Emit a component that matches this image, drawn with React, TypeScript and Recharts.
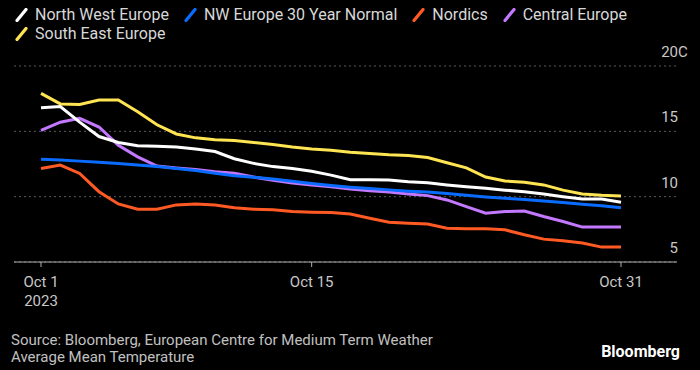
import { LineChart, Line, XAxis, YAxis, CartesianGrid } from "recharts"

const days = [1, 2, 3, 4, 5, 6, 7, 8, 9, 10, 11, 12, 13, 14, 15, 16, 17, 18, 19, 20, 21, 22, 23, 24, 25, 26, 27, 28, 29, 30, 31]

const northWest = [16.8, 16.9, 15.7, 14.6, 14.15, 13.9, 13.85, 13.8, 13.65, 13.45, 12.9, 12.55, 12.3, 12.15, 11.95, 11.65, 11.3, 11.3, 11.27, 11.15, 11.07, 10.9, 10.76, 10.64, 10.5, 10.38, 10.2, 10.0, 9.82, 9.82, 9.57]
const nwNormal = [12.87, 12.8, 12.72, 12.63, 12.53, 12.42, 12.3, 12.15, 12.0, 11.8, 11.6, 11.48, 11.35, 11.18, 11.0, 10.85, 10.72, 10.62, 10.52, 10.42, 10.35, 10.25, 10.1, 9.98, 9.88, 9.78, 9.67, 9.55, 9.42, 9.3, 9.16]
const nordics = [12.16, 12.42, 11.78, 10.38, 9.44, 9.04, 9.04, 9.37, 9.44, 9.37, 9.15, 9.04, 9.0, 8.86, 8.81, 8.78, 8.68, 8.35, 8.05, 7.97, 7.9, 7.59, 7.54, 7.54, 7.46, 7.08, 6.75, 6.62, 6.45, 6.14, 6.14]
const central = [15.08, 15.7, 16.0, 15.33, 13.94, 13.05, 12.34, 12.2, 12.08, 11.9, 11.8, 11.5, 11.25, 11.05, 10.9, 10.76, 10.58, 10.45, 10.35, 10.2, 10.08, 9.75, 9.24, 8.73, 8.86, 8.9, 8.48, 8.1, 7.67, 7.67, 7.67]
const southEast = [17.9, 17.1, 17.05, 17.4, 17.4, 16.5, 15.5, 14.8, 14.5, 14.35, 14.3, 14.15, 14.0, 13.8, 13.65, 13.55, 13.4, 13.3, 13.2, 13.15, 13.0, 12.6, 12.2, 11.5, 11.2, 11.1, 10.9, 10.5, 10.2, 10.1, 10.05]

const xTicks = [1, 15, 31]
const yTicks = [5, 10, 15, 20]

const series = [
  { key: "nw", name: "North West Europe", color: "#ffffff", values: northWest },
  { key: "normal", name: "NW Europe 30 Year Normal", color: "#0a6cff", values: nwNormal },
  { key: "nordics", name: "Nordics", color: "#ff5a23", values: nordics },
  { key: "central", name: "Central Europe", color: "#c378ff", values: central },
  { key: "se", name: "South East Europe", color: "#ffe552", values: southEast },
]

const data = days.map((day, i) => {
  const row: Record<string, number> = { day }
  series.forEach((s) => (row[s.key] = s.values[i]))
  return row
})

const FONT = "Roboto, sans-serif"
const PLOT_RIGHT = 677

function YTick(props: any) {
  const { y, payload } = props
  const top = payload.value === 20
  return (
    <g>
      <text x={PLOT_RIGHT + 1} y={y - 9} textAnchor="end" fill="#c8c8c8" fontSize={15} fontFamily={FONT}>
        {payload.value}
      </text>
      {top && (
        <text x={PLOT_RIGHT + 1} y={y - 9} textAnchor="start" fill="#c8c8c8" fontSize={15} fontFamily={FONT}>
          C
        </text>
      )}
    </g>
  )
}

function XTick(props: any) {
  const { x, y, payload } = props
  return (
    <g>
      <text x={x} y={y} dy={18} textAnchor="middle" fill="#c8c8c8" fontSize={15} fontFamily={FONT}>
        Oct {payload.value}
      </text>
      {payload.value === 1 && (
        <text x={x} y={y} dy={37} textAnchor="middle" fill="#c8c8c8" fontSize={15} fontFamily={FONT}>
          2023
        </text>
      )}
    </g>
  )
}

function Slash({ color }: { color: string }) {
  return (
    <svg width={13} height={14} style={{ marginRight: 7, flexShrink: 0 }}>
      <line x1={2} y1={12.5} x2={11} y2={1.5} stroke={color} strokeWidth={3.2} strokeLinecap="round" />
    </svg>
  )
}

export default function App() {
  return (
    <div style={{ position: "absolute", left: 0, top: 0, width: 700, height: 370, background: "#000", overflow: "hidden", fontFamily: FONT }}>
      <div style={{ position: "absolute", left: 15, top: 5, width: 670, display: "flex", flexWrap: "wrap", columnGap: 15 }}>
        {series.map((s) => (
          <div key={s.key} style={{ display: "flex", alignItems: "center", height: 19, color: "#d8d8d8", fontSize: 16, whiteSpace: "nowrap" }}>
            <Slash color={s.color} />
            {s.name}
          </div>
        ))}
      </div>

      <LineChart width={700} height={370} data={data} margin={{ top: 66, right: 0, bottom: 78, left: 14 }}>
        <CartesianGrid vertical={false} stroke="#5a5a5a" strokeDasharray="2 3" />
        <XAxis
          dataKey="day"
          type="number"
          domain={[1, 31]}
          ticks={xTicks}
          padding={{ left: 27, right: 56 }}
          height={30}
          stroke="#b0b0b0"
          tickSize={5}
          tickLine={{ stroke: "#b0b0b0" }}
          tick={<XTick />}
          interval={0}
        />
        <YAxis
          orientation="right"
          width={23}
          domain={[5, 20]}
          ticks={yTicks}
          axisLine={false}
          tickLine={false}
          tick={<YTick />}
        />
        {[...series].reverse().map((s) => (
          <Line
            key={s.key}
            dataKey={s.key}
            name={s.name}
            type="linear"
            stroke={s.color}
            strokeWidth={3}
            dot={false}
            isAnimationActive={false}
          />
        ))}
      </LineChart>

      <div style={{ position: "absolute", left: 11, top: 332, color: "#c0c0c0", fontSize: 15, lineHeight: "17px" }}>
        <div>Source: Bloomberg, European Centre for Medium Term Weather</div>
        <div>Average Mean Temperature</div>
      </div>
      <div style={{ position: "absolute", right: 20, top: 342, color: "#ffffff", fontSize: 16, fontWeight: 700, lineHeight: "20px" }}>
        Bloomberg
      </div>
    </div>
  )
}
